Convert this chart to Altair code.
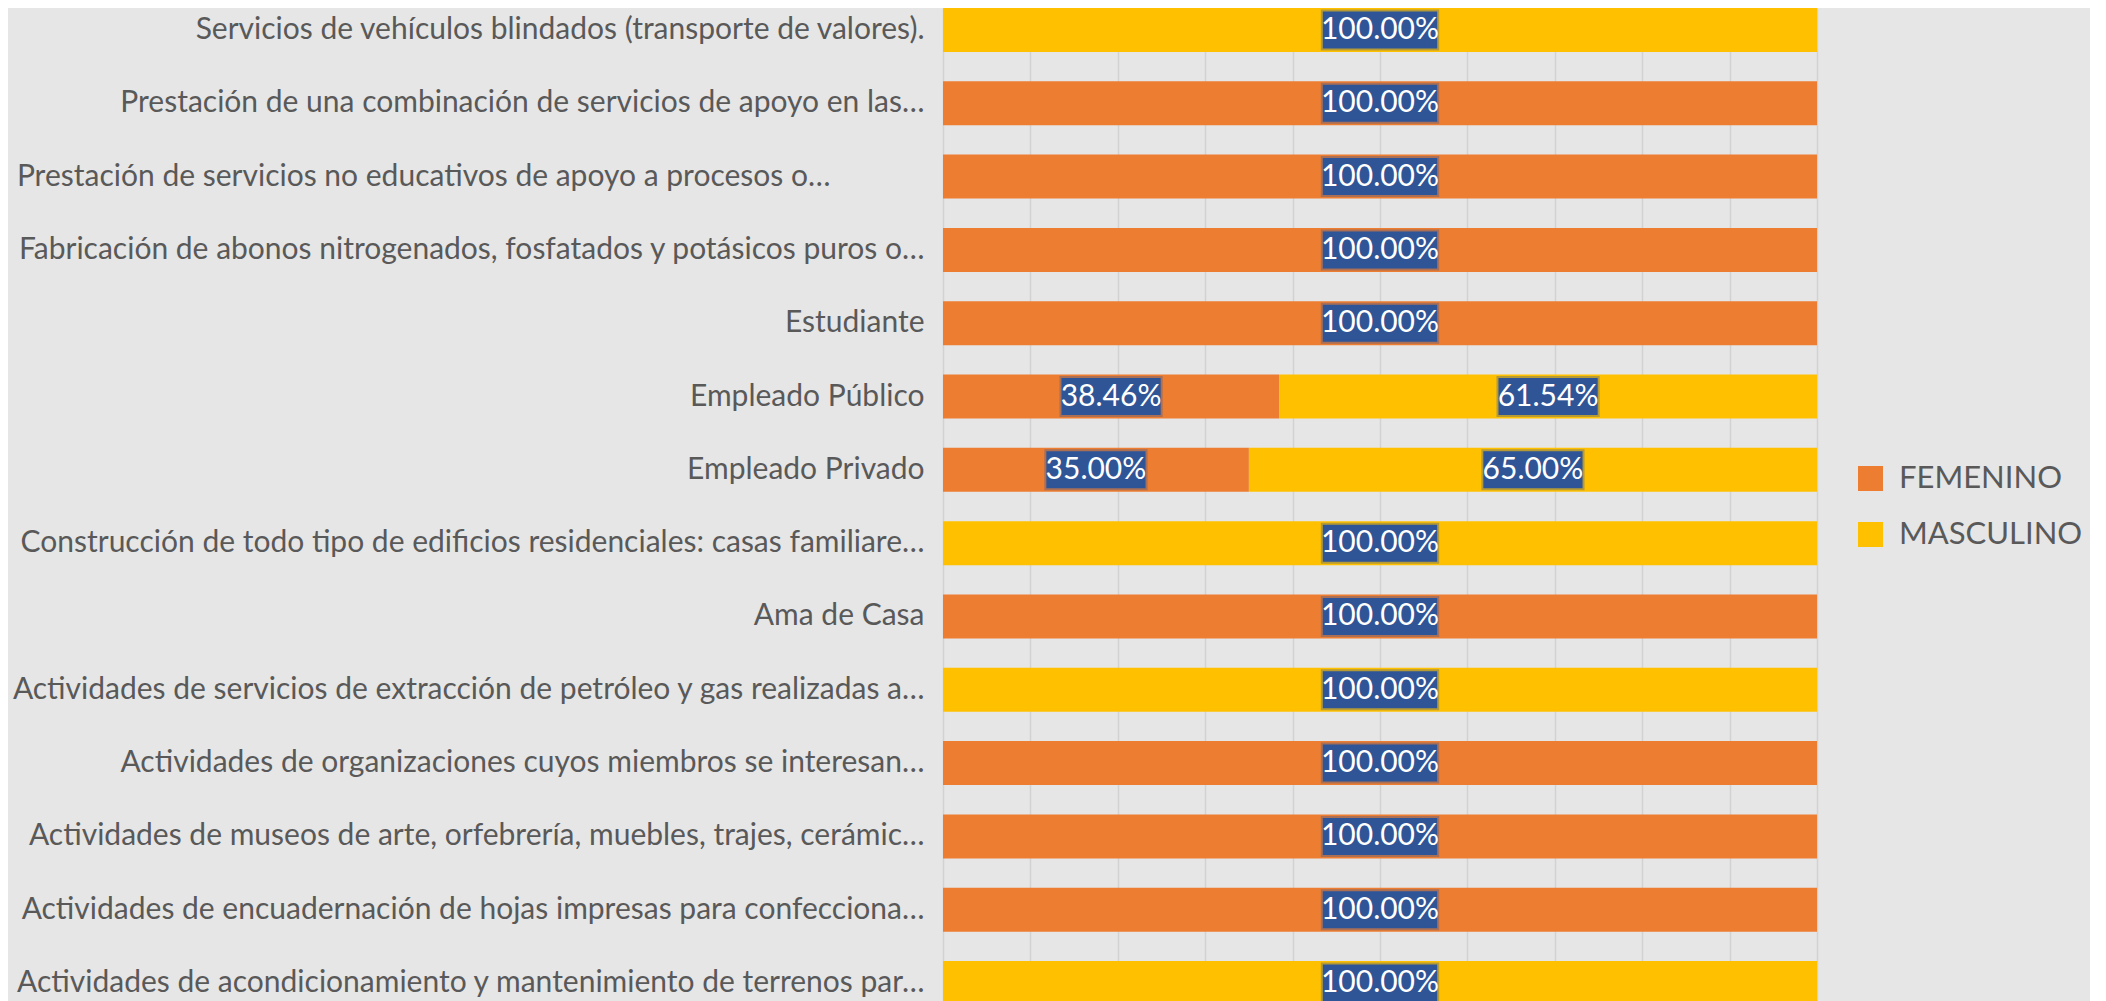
import altair as alt
import pandas as pd

categories = [
    "Servicios de vehículos blindados (transporte de valores).",
    "Prestación de una combinación de servicios de apoyo en las…",
    "Prestación de servicios no educativos de apoyo a procesos o…",
    "Fabricación de abonos nitrogenados, fosfatados y potásicos puros o…",
    "Estudiante",
    "Empleado Público",
    "Empleado Privado",
    "Construcción de todo tipo de edificios residenciales: casas familiare…",
    "Ama de Casa",
    "Actividades de servicios de extracción de petróleo y gas realizadas a…",
    "Actividades de organizaciones cuyos miembros se interesan…",
    "Actividades de museos de arte, orfebrería, muebles, trajes, cerámic…",
    "Actividades de encuadernación de hojas impresas para confecciona…",
    "Actividades de acondicionamiento y mantenimiento de terrenos par…",
]
femenino = [0, 100, 100, 100, 100, 38.46, 35.00, 0, 100, 0, 100, 100, 100, 0]
masculino = [100, 0, 0, 0, 0, 61.54, 65.00, 100, 0, 100, 0, 0, 0, 100]
series = ["FEMENINO", "MASCULINO"]
colors = ["#ED7D31", "#FFC000"]

rows = []
for i, c in enumerate(categories):
    for k, (s, vals) in enumerate(zip(series, [femenino, masculino])):
        if vals[i] > 0:
            rows.append({"cat": c, "series": s, "order": k, "value": vals[i]})
df = pd.DataFrame(rows)

FONT = "Lato"
TXT = "#595959"

ycat = alt.Y(
    "cat:N",
    sort=categories,
    scale=alt.Scale(paddingInner=0.4, paddingOuter=0),
    axis=alt.Axis(
        title=None, ticks=False, domain=False, grid=False,
        labelFont=FONT, labelFontSize=30, labelColor=TXT,
        labelPadding={
            "condition": {"test": "indexof(datum.value, 'no educativos') >= 0", "value": 113},
            "value": 19,
        },
        labelLimit=0,
    ),
)

base = (
    alt.Chart(df)
    .transform_stack(stack="value", groupby=["cat"], as_=["x0", "x1"],
                     sort=[alt.SortField("order")])
    .transform_calculate(
        mid="(datum.x0 + datum.x1) / 2",
        label="format(datum.value, '.2f') + '%'",
    )
    .transform_calculate(
        bx0="datum.mid - (length(datum.label) * 7.6 + 4) * 100 / 874",
        bx1="datum.mid + (length(datum.label) * 7.6 + 4) * 100 / 874",
    )
)

xscale = alt.Scale(domain=[0, 100], nice=False)

bars = base.mark_bar().encode(
    y=ycat,
    x=alt.X(
        "x0:Q", scale=xscale,
        axis=alt.Axis(
            values=list(range(0, 101, 10)), labels=False, ticks=False,
            domain=False, grid=True, gridColor="#d2d2d2", gridWidth=1.5,
            title=None,
        ),
    ),
    x2="x1:Q",
    color=alt.Color(
        "series:N",
        scale=alt.Scale(domain=series, range=colors),
        legend=alt.Legend(
            title=None, orient="none", legendX=912, legendY=455,
            symbolType="square", symbolSize=625, symbolStrokeWidth=0,
            labelFont=FONT, labelFontSize=31, labelColor=TXT, labelLimit=0,
            rowPadding=24, labelOffset=13, padding=0,
        ),
    ),
)

boxes = base.mark_bar(
    size=37, color="#2F5597", stroke="#2F5597", strokeWidth=4, strokeOpacity=0.35
).encode(y=ycat, x=alt.X("bx0:Q", scale=xscale), x2="bx1:Q")

labels = base.mark_text(
    color="white", font=FONT, fontSize=30, baseline="middle", align="center"
).encode(y=ycat, x=alt.X("mid:Q", scale=xscale), text="label:N")

chart = (
    alt.layer(bars, boxes, labels)
    .properties(
        width=874, height=997,
        autosize=alt.AutoSizeParams(type="none"),
        padding={"left": 935, "top": 0, "right": 273, "bottom": 0},
        background="#e6e6e6",
    )
    .configure_view(stroke=None)
)

chart.save("out.html", embed_options={"renderer": "svg", "actions": False})
